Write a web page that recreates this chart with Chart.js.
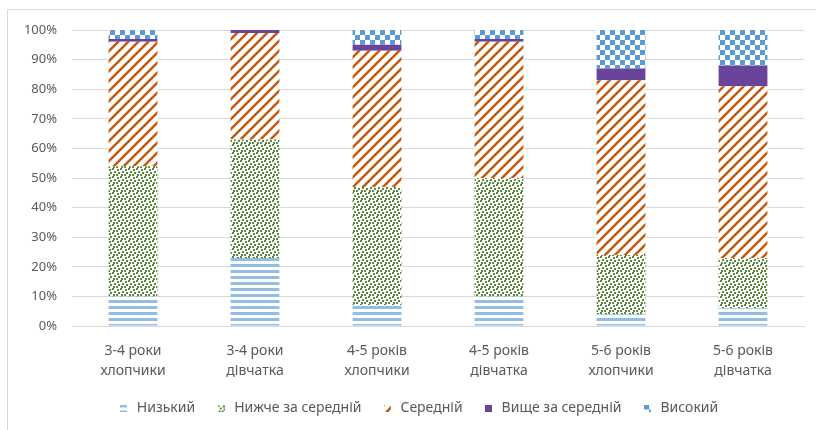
<!DOCTYPE html>
<html>
<head>
<meta charset="utf-8">
<script src="https://cdn.jsdelivr.net/npm/chart.js@4/dist/chart.umd.min.js"></script>
<style>
    html, body { margin: 0; padding: 0; background: #fff; }
    #wrap { position: relative; width: 816px; height: 430px; overflow: hidden; }
    #frame { position: absolute; left: 7px; top: 9px; width: 900px; height: 500px; border: 1px solid #d9d9d9; }
    #chart { position: absolute; left: 0; top: 0; }
</style>
</head>
<body>
<div id="wrap">
    <div id="frame"></div>
    <canvas id="chart" width="816" height="430"></canvas>
</div>
<script>
// Age groups on the x axis (two-line labels)
var categories = [
    ['3-4 роки', 'хлопчики'],
    ['3-4 роки', 'дівчатка'],
    ['4-5 років', 'хлопчики'],
    ['4-5 років', 'дівчатка'],
    ['5-6 років', 'хлопчики'],
    ['5-6 років', 'дівчатка']
];

// Share of children per level, %
var low = [10, 23, 7, 10, 4, 6];
var belowAverage = [44, 40, 40, 40, 20, 17];
var average = [42, 36, 46, 46, 59, 58];
var aboveAverage = [1, 1, 2, 1, 4, 7];
var high = [3, 0, 5, 3, 13, 12];

var seriesNames = ['Низький', 'Нижче за середній', 'Середній', 'Вище за середній', 'Високий'];
var yTicks = [0, 10, 20, 30, 40, 50, 60, 70, 80, 90, 100];

// Build a repeating fill from a small tile
function makePattern(size, draw) {
    var tile = document.createElement('canvas');
    tile.width = size;
    tile.height = size;
    var ctx = tile.getContext('2d');
    ctx.fillStyle = '#ffffff';
    ctx.fillRect(0, 0, size, size);
    draw(ctx, size);
    return ctx.createPattern(tile, 'repeat');
}

// Small square swatch for the legend
function makeMarker(fill) {
    var c = document.createElement('canvas');
    c.width = 7;
    c.height = 7;
    var ctx = c.getContext('2d');
    ctx.fillStyle = fill;
    ctx.fillRect(0, 0, 7, 7);
    return c;
}

var stripesFill = makePattern(6, function(ctx, s) {
    ctx.fillStyle = '#93bde3';
    ctx.fillRect(0, 0, s, 3);
});

var confettiFill = makePattern(8, function(ctx) {
    ctx.fillStyle = '#5a8a3c';
    [[0, 0], [5, 1], [2, 3], [6, 4], [1, 6], [4, 6]].forEach(function(p) {
        ctx.fillRect(p[0], p[1], 2, 2);
    });
});

var diagonalFill = makePattern(10, function(ctx, s) {
    ctx.strokeStyle = '#c55a11';
    ctx.lineWidth = 2.5;
    ctx.beginPath();
    ctx.moveTo(-2, s + 2); ctx.lineTo(s + 2, -2);
    ctx.moveTo(-2 - s / 2, s / 2 + 2); ctx.lineTo(s / 2 + 2, -2 - s / 2);
    ctx.moveTo(s / 2 - 2, s * 1.5 + 2); ctx.lineTo(s * 1.5 + 2, s / 2 - 2);
    ctx.stroke();
});

var checkerFill = makePattern(10, function(ctx) {
    ctx.fillStyle = '#5b9bd5';
    ctx.fillRect(0, 0, 5, 5);
    ctx.fillRect(5, 5, 5, 5);
});

var fills = [stripesFill, confettiFill, diagonalFill, '#6a449a', checkerFill];
var markers = fills.map(makeMarker);
var values = [low, belowAverage, average, aboveAverage, high];

var datasets = seriesNames.map(function(name, i) {
    return {
        label: name,
        data: values[i],
        backgroundColor: fills[i],
        borderWidth: 0,
        barPercentage: 0.4,
        categoryPercentage: 1
    };
});

var textColor = '#595959';
var fontFamily = '"Noto Sans", "DejaVu Sans", sans-serif';

// Nudge the legend a bit to the right of the canvas centre
var legendShift = {
    id: 'legendShift',
    afterLayout: function(chart) {
        chart.legend.left += 16;
        chart.legend.right += 16;
    }
};

new Chart(document.getElementById('chart'), {
    type: 'bar',
    data: { labels: categories, datasets: datasets },
    plugins: [legendShift],
    options: {
        responsive: false,
        animation: false,
        layout: { padding: { top: 30, right: 12, bottom: 5, left: 0 } },
        plugins: {
            tooltip: { enabled: false },
            legend: {
                position: 'bottom',
                labels: {
                    usePointStyle: true,
                    pointStyleWidth: 12,
                    boxHeight: 7,
                    padding: 20,
                    color: textColor,
                    font: { family: fontFamily, size: 14 },
                    generateLabels: function(chart) {
                        var items = Chart.defaults.plugins.legend.labels.generateLabels(chart);
                        items.forEach(function(item, i) { item.pointStyle = markers[i]; });
                        return items;
                    }
                }
            }
        },
        scales: {
            x: {
                stacked: true,
                afterFit: function(scale) { scale.height = 55; },
                grid: { display: false, drawTicks: false },
                border: { display: true, color: '#d9d9d9', width: 1 },
                ticks: {
                    color: textColor,
                    padding: 15,
                    maxRotation: 0,
                    font: { family: fontFamily, size: 14, lineHeight: '20px' }
                }
            },
            y: {
                stacked: true,
                min: 0,
                max: 100,
                afterFit: function(scale) { scale.width = 72; },
                afterBuildTicks: function(scale) {
                    scale.ticks = yTicks.map(function(v) { return { value: v }; });
                },
                grid: { color: '#d9d9d9', drawTicks: false },
                border: { display: false },
                ticks: {
                    color: textColor,
                    padding: 15,
                    font: { family: fontFamily, size: 13 },
                    callback: function(v) { return v + '%'; }
                }
            }
        }
    }
});
</script>
</body>
</html>
